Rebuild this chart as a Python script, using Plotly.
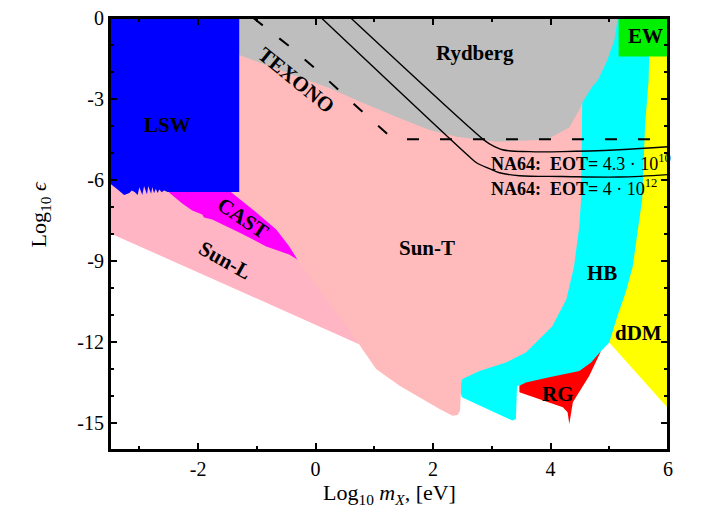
import plotly.graph_objects as go

# ---- regions (Log10 m_X in eV, Log10 eps) ----
hb_x = [2.40, 2.49, 3.35, 3.41, 3.43, 3.60, 4.00, 4.49, 4.70, 4.86, 5.00, 5.70, 5.80, 4.30, 4.30, 4.35, 4.20, 4.00, 3.60, 3.00]
hb_y = [-13.30, -14.05, -14.91, -14.85, -13.62, -13.60, -13.45, -13.20, -12.85, -12.33, -12.02, -11.60, 0.10, 0.10, -2.50, -6.70, -9.20, -10.60, -11.80, -12.80]

sunt_x = [-1.50, 4.30, 4.30, 4.54, 4.52, 4.49, 4.40, 4.27, 4.03, 3.81, 3.58, 3.24, 2.79, 2.50, 2.48, 2.46, 2.42, 2.33, 2.11, 1.43, 1.26, 1.03, 0.74, 0.30, -0.60, -1.47]
sunt_y = [0.10, 0.10, -2.50, -3.14, -6.72, -7.72, -9.20, -10.42, -11.42, -11.90, -12.39, -12.76, -13.07, -13.37, -13.50, -14.54, -14.70, -14.73, -14.48, -13.62, -13.37, -13.00, -12.08, -11.30, -9.00, -6.45]

sunl_x = [-3.60, -2.49, -1.60, -0.31, 0.74, -3.52, -3.60]
sunl_y = [-6.00, -6.42, -6.80, -8.94, -12.08, -7.95, -7.95]

cast_x = [-2.49, -1.47, -1.07, -0.67, -0.45, -0.31, -0.45, -0.84, -1.30, -1.76, -1.90, -1.93, -2.10, -2.27, -2.49]
cast_y = [-6.40, -6.40, -7.09, -7.83, -8.45, -8.94, -8.76, -8.46, -7.94, -7.46, -7.39, -7.28, -7.13, -6.87, -6.47]

ryd_x = [-1.40, -1.40, -1.30, 0.23, 0.80, 1.37, 1.93, 2.40, 3.08, 3.93, 4.32, 4.49, 4.54, 4.71, 4.81, 4.97, 5.09, 5.14, 5.15]
ryd_y = [0.10, -1.29, -1.37, -2.59, -3.14, -3.66, -4.14, -4.40, -4.58, -4.51, -4.06, -3.40, -3.14, -2.55, -2.29, -1.55, -0.81, 0.00, 0.10]

lsw_x = [-3.60, -1.30, -1.30, -2.52, -2.58, -2.62, -2.66, -2.69, -2.72, -2.75, -2.78, -2.80, -2.85, -2.87,
         -2.92, -2.95, -3.00, -3.03, -3.08, -3.13, -3.17, -3.26, -3.37, -3.51, -3.60]
lsw_y = [0.10, 0.10, -6.44, -6.44, -6.39, -6.45, -6.35, -6.48, -6.32, -6.49, -6.27, -6.51, -6.23, -6.54,
         -6.23, -6.56, -6.27, -6.56, -6.44, -6.39, -6.48, -6.56, -6.35, -6.11, -6.11]

ddm_x = [5.68, 6.10, 6.10, 6.00, 5.00, 5.14, 5.28, 5.40, 5.48, 5.56, 5.61, 5.67, 5.68]
ddm_y = [-1.20, -1.20, -14.45, -14.45, -12.02, -11.03, -10.16, -9.19, -7.94, -6.72, -3.95, -2.29, -1.44]

rg_x = [3.47, 3.58, 3.98, 4.49, 4.69, 4.86, 4.66, 4.49, 4.38, 4.32, 4.29, 4.21, 3.47]
rg_y = [-13.62, -13.50, -13.31, -13.07, -12.76, -12.33, -13.25, -13.86, -14.23, -15.04, -14.60, -14.42, -13.86]

ew_x = [5.16, 6.10, 6.10, 5.16]
ew_y = [0.10, 0.10, -1.43, -1.43]

# ---- limit curves ----
texono_x = [-1.06, -0.41, 0.03, 0.44, 0.87, 1.22, 1.34, 1.48, 6.00]
texono_y = [0.00, -1.11, -1.94, -2.77, -3.62, -4.29, -4.43, -4.49, -4.49]

na64a_x = [0.60, 2.84, 2.96, 3.18, 3.64, 4.20, 5.17, 6.00]
na64a_y = [0.00, -4.47, -4.66, -4.88, -4.95, -4.95, -4.88, -4.77]

na64b_x = [0.10, 2.62, 2.74, 2.96, 3.13, 3.47, 4.20, 5.17, 6.00]
na64b_y = [0.00, -5.14, -5.36, -5.58, -5.73, -5.84, -5.87, -5.89, -5.80]

x_ticks = [-2, 0, 2, 4, 6]
x_ticktext = ["-2", "0", "2", "4", "6"]
x_minor = [-3, -1, 1, 3, 5]
y_ticks = [0, -3, -6, -9, -12, -15]
y_ticktext = ["0", "-3", "-6", "-9", "-12", "-15"]
y_minor = [-1, -2, -4, -5, -7, -8, -10, -11, -13, -14]

SERIF = "Liberation Serif"

fig = go.Figure()


def region(x, y, color):
    fig.add_trace(go.Scatter(x=x, y=y, fill="toself", fillcolor=color, mode="lines",
                             line=dict(width=0, color=color), hoverinfo="skip", showlegend=False))


region(hb_x, hb_y, "#00FFFF")
region(sunt_x, sunt_y, "#FFBBBB")
region(sunl_x, sunl_y, "#FFB5C3")
region(cast_x, cast_y, "#FF00FF")
region(ryd_x, ryd_y, "#BEBEBE")
region(lsw_x, lsw_y, "#0000FF")
region(ddm_x, ddm_y, "#FFFF00")
region(rg_x, rg_y, "#FF0000")
region(ew_x, ew_y, "#00F000")

fig.add_trace(go.Scatter(x=texono_x, y=texono_y, mode="lines",
                         line=dict(color="black", width=2, dash="12px,21px"),
                         hoverinfo="skip", showlegend=False))
fig.add_trace(go.Scatter(x=na64a_x, y=na64a_y, mode="lines", line=dict(color="black", width=1.4),
                         line_shape="spline", hoverinfo="skip", showlegend=False))
fig.add_trace(go.Scatter(x=na64b_x, y=na64b_y, mode="lines", line=dict(color="black", width=1.4),
                         line_shape="spline", hoverinfo="skip", showlegend=False))

# labels
labels = [
    ("LSW", -2.52, -3.95, 0),
    ("TEXONO", -0.33, -2.29, 39),
    ("Rydberg", 2.72, -1.30, 0),
    ("CAST", -1.24, -7.40, 34),
    ("Sun-L", -1.55, -8.98, 29),
    ("Sun-T", 1.89, -8.53, 0),
    ("HB", 4.87, -9.46, 0),
    ("dDM", 5.49, -11.67, 0),
    ("RG", 4.12, -13.93, 0),
    ("EW", 5.61, -0.67, 0),
]
for txt, lx, ly, ang in labels:
    fig.add_annotation(x=lx, y=ly, text="<b>" + txt + "</b>", showarrow=False, textangle=ang,
                       font=dict(family=SERIF, size=21, color="black"))

fig.add_annotation(x=2.96, y=-5.34, xanchor="left", showarrow=False,
                   text="<b>NA64:  EOT=</b> 4.3 · 10<sup>10</sup>",
                   font=dict(family=SERIF, size=18, color="black"))
fig.add_annotation(x=2.96, y=-6.28, xanchor="left", showarrow=False,
                   text="<b>NA64:  EOT=</b> 4 · 10<sup>12</sup>",
                   font=dict(family=SERIF, size=18, color="black"))

# axis titles
fig.add_annotation(xref="paper", yref="paper", x=0.5, y=-0.102, xanchor="center", yanchor="middle",
                   showarrow=False, text="Log<sub>10</sub> <i>m<sub>X</sub></i>, [eV]",
                   font=dict(family=SERIF, size=22, color="black"))
fig.add_annotation(xref="paper", yref="paper", x=-0.125, y=0.546, xanchor="center", yanchor="middle",
                   textangle=-90, showarrow=False, text="Log<sub>10</sub> <i>ϵ</i>",
                   font=dict(family=SERIF, size=22, color="black"))

# frame drawn on top of the filled regions
fig.add_shape(type="rect", xref="paper", yref="paper", x0=0, x1=1, y0=0, y1=1,
              line=dict(color="black", width=2), layer="above")

axis_common = dict(showgrid=False, zeroline=False, showline=True, linecolor="black", linewidth=2,
                   mirror="allticks", ticks="inside", ticklen=7, tickwidth=2, tickcolor="black",
                   ticklabeloverflow="allow",
                   tickfont=dict(family=SERIF, size=20, color="black"))

fig.update_xaxes(range=[-3.5, 6], tickmode="array", tickvals=x_ticks, ticktext=x_ticktext,
                 minor=dict(tickmode="array", tickvals=x_minor, ticks="inside", ticklen=4,
                            tickwidth=2, tickcolor="black"),
                 **axis_common)
fig.update_yaxes(range=[-16, 0], tickmode="array", tickvals=y_ticks, ticktext=y_ticktext,
                 minor=dict(tickmode="array", tickvals=y_minor, ticks="inside", ticklen=4,
                            tickwidth=2, tickcolor="black"),
                 **axis_common)

# page body adds 8px offset, so margins are shifted accordingly
fig.update_layout(width=707, height=521, margin=dict(l=102, r=47, t=10, b=79, autoexpand=False),
                  plot_bgcolor="white", paper_bgcolor="white")

fig.write_html("out.html")
